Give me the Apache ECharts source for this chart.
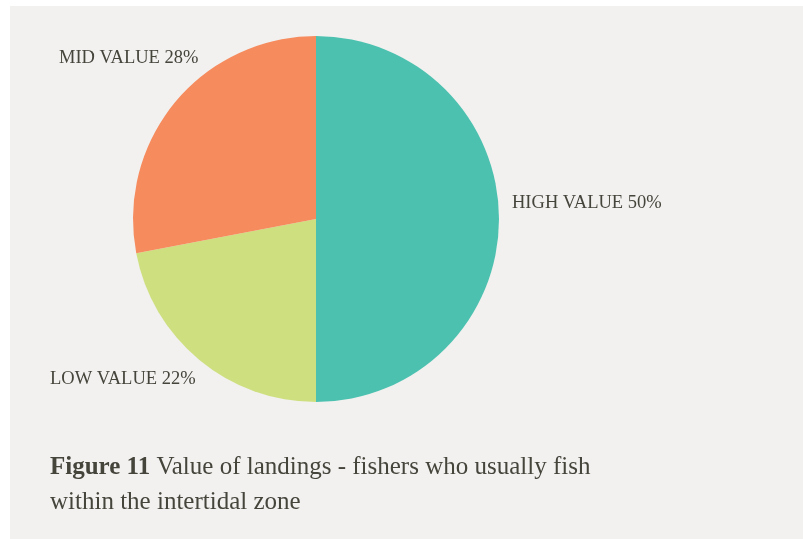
<!DOCTYPE html>
<html><head><meta charset="utf-8">
<script src="https://cdn.jsdelivr.net/npm/echarts@6/dist/echarts.min.js"></script>
<style>html,body{margin:0;padding:0;background:#fff;}#c{width:803px;height:539px;}</style>
</head><body><div id="c"></div>
<script>
const categories = ['HIGH VALUE', 'LOW VALUE', 'MID VALUE'];
const values = [50, 22, 28];
const colors = ['#4cc1b0', '#cedf80', '#f68b5e'];
const labelPos = { 'HIGH VALUE': [512, 203], 'LOW VALUE': [50, 379], 'MID VALUE': [59, 58] };

const chart = echarts.init(document.getElementById('c'));
chart.setOption({
  backgroundColor: '#ffffff',
  animation: false,
  graphic: [{ type: 'rect', z: -10, shape: { x: 10, y: 6, width: 800, height: 540 }, style: { fill: '#f2f1ef' } }],
  title: {
    left: 50, top: 450, padding: 0,
    text: '{b|Figure 11} Value of landings - fishers who usually fish\nwithin the intertidal zone',
    textStyle: {
      fontFamily: 'Liberation Serif', fontSize: 25, fontWeight: 'normal', color: '#45453c', lineHeight: 35,
      rich: { b: { fontFamily: 'Liberation Serif', fontSize: 25, fontWeight: 'bold', color: '#45453c', lineHeight: 35 } }
    }
  },
  series: [{
    type: 'pie',
    center: [316, 219],
    radius: 183,
    startAngle: 90,
    clockwise: true,
    data: categories.map((n, i) => ({ name: n, value: values[i], itemStyle: { color: colors[i] } })),
    label: {
      show: true,
      formatter: p => p.name + ' ' + p.value + '%',
      fontFamily: 'Liberation Serif', fontSize: 18.5, color: '#45453c',
      overflow: 'none', width: 300
    },
    labelLine: { show: false },
    labelLayout: p => {
      const pos = labelPos[categories[p.dataIndex]];
      return { x: pos[0], y: pos[1], align: 'left', verticalAlign: 'middle' };
    },
    emphasis: { disabled: true }
  }]
});
</script></body></html>
